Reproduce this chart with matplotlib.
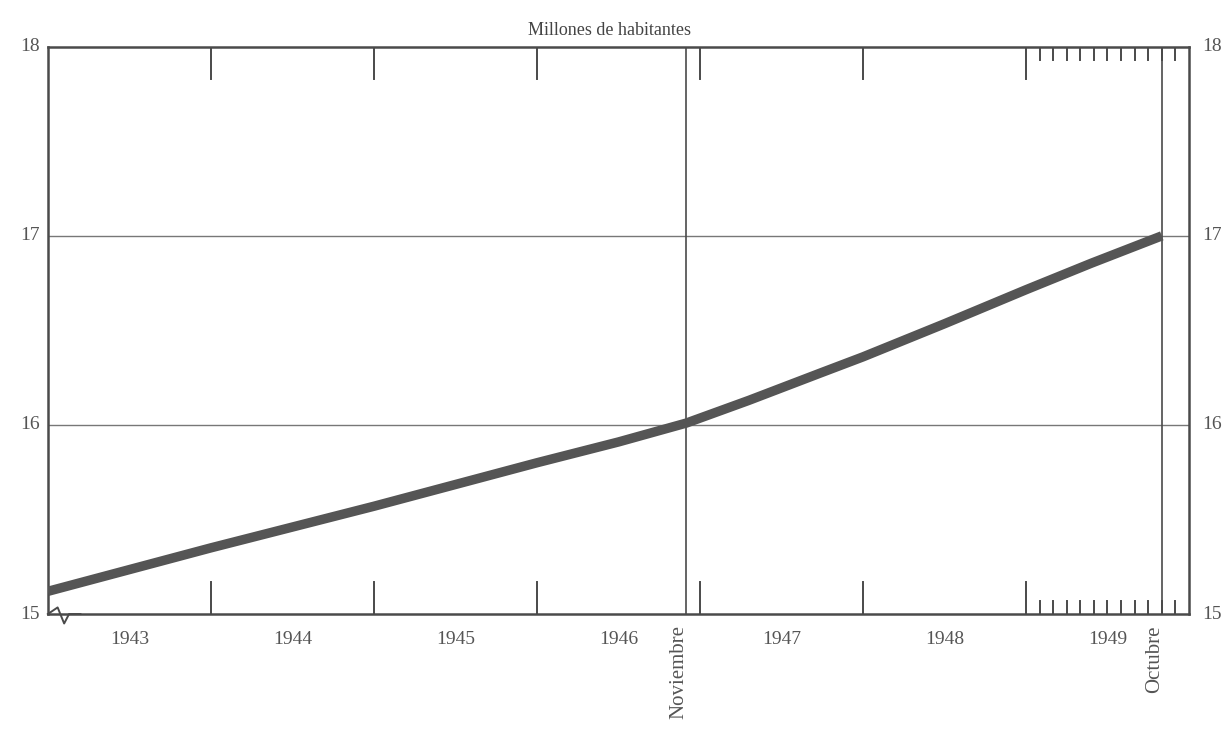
import numpy as np
import matplotlib
matplotlib.use("Agg")
import matplotlib.pyplot as plt

# population estimate, millions
fechas = [1943.0, 1944.0, 1945.0, 1946.0, 1946.5, 1946 + 11 / 12, 1947.3, 1947.74,
          1948.0, 1948.5, 1949.0, 1949.4, 1949 + 10 / 12]
millones = [15.12, 15.35, 15.57, 15.80, 15.91, 16.01, 16.13, 16.275,
            16.36, 16.535, 16.715, 16.855, 17.00]
anios = [1943, 1944, 1945, 1946, 1947, 1948, 1949]
marcas = [(1946 + 11 / 12, "Noviembre"), (1949 + 10 / 12, "Octubre")]
y_ticks = [15, 16, 17, 18]

gris = "#4a4a4a"
plt.rcParams["font.family"] = ["Liberation Serif", "DejaVu Serif"]

fig = plt.figure(figsize=(12.27, 7.31), dpi=100)
ax = fig.add_axes([0.039, 0.160, 0.930, 0.776])
ax.set_xlim(1943, 1950)
ax.set_ylim(15, 18)

for s in ax.spines.values():
    s.set_color(gris)
    s.set_linewidth(1.8)

# horizontal grid at 16 and 17
for v in y_ticks[1:-1]:
    ax.axhline(v, color="#777777", lw=1.0, zorder=1)

# year boundary ticks top/bottom
for a in anios[1:]:
    ax.plot([a, a], [15, 15.17], color=gris, lw=1.4, zorder=2)
    ax.plot([a, a], [18, 17.83], color=gris, lw=1.4, zorder=2)

# monthly ticks in 1949
for m in range(1, 12):
    x = 1949 + m / 12
    ax.plot([x, x], [15, 15.07], color=gris, lw=1.4, zorder=2)
    ax.plot([x, x], [18, 17.93], color=gris, lw=1.4, zorder=2)

# full-height lines at the census dates
for x, lab in marcas:
    ax.axvline(x, color=gris, lw=1.2, zorder=2)
    ax.text(x - 0.045, 14.94, lab, rotation=90, ha="center", va="top",
            fontsize=15, color="#555555")

ax.plot(fechas, millones, color="#555555", lw=6.8, solid_capstyle="butt",
        solid_joinstyle="round", zorder=3)

ax.set_xticks([])
ax.set_yticks([])
for a in anios:
    ax.text(a + 0.5, 14.91, str(a), ha="center", va="top", fontsize=14, color="#555555")
for v in y_ticks:
    ax.text(1942.95, v, str(v), ha="right", va="center", fontsize=14, color="#555555")
    ax.text(1950.08, v, str(v), ha="left", va="center", fontsize=14, color="#555555")

# axis break symbol at the bottom left
zx = [1943.0, 1943.06, 1943.1, 1943.13, 1943.2]
zy = [15.0, 15.035, 14.95, 15.0, 15.0]
ax.plot(zx, zy, color=gris, lw=1.4, clip_on=False, zorder=4)

fig.text(0.497, 0.958, "Millones de habitantes", ha="center", va="center",
         fontsize=13, color="#444444")

fig.savefig("out.png", dpi=100, facecolor="white")
